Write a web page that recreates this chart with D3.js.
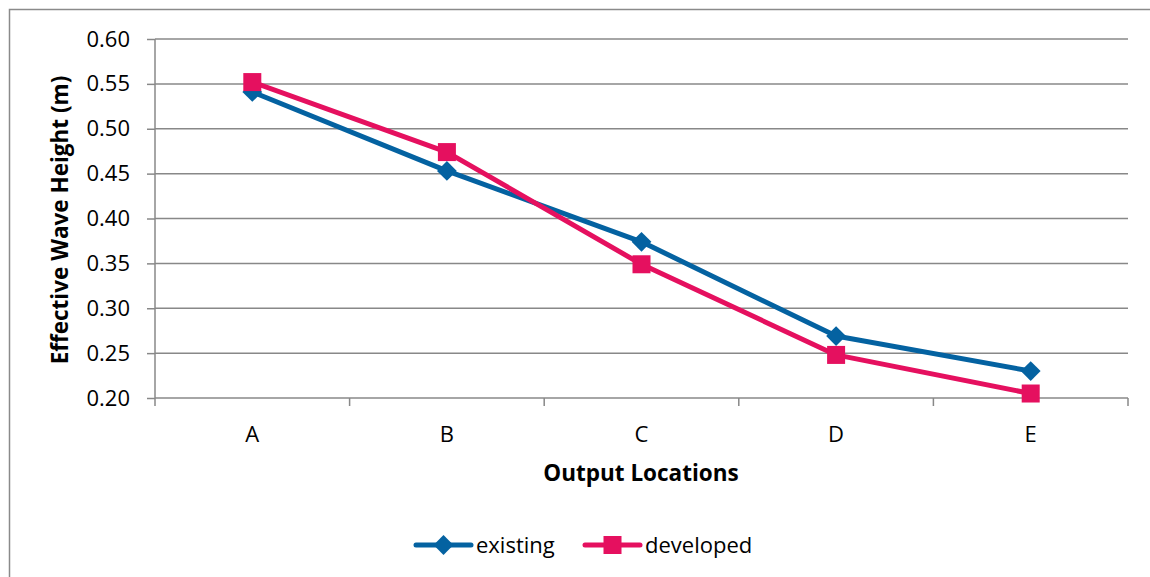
<!DOCTYPE html>
<html><head><meta charset="utf-8">
<script src="https://cdn.jsdelivr.net/npm/d3@7"></script>
<style>body{margin:0;background:#fff;} svg{display:block;}</style>
</head><body>
<svg id="c" width="1150" height="577"></svg>
<script>
const categories = ["A","B","C","D","E"];
const existing = [0.541, 0.453, 0.374, 0.269, 0.230];
const developed = [0.552, 0.474, 0.349, 0.248, 0.205];
const yTicks = [0.20,0.25,0.30,0.35,0.40,0.45,0.50,0.55,0.60];
const seriesNames = ["existing","developed"];
const colors = ["#0462A1","#E5105F"];

const svg = d3.select("#c");
const font = "'Open Sans', sans-serif";
const L=155, R=1128, T=39, B=398;
svg.append("rect").attr("x",9.5).attr("y",9.5).attr("width",1200).attr("height",700)
  .attr("fill","#fff").attr("stroke","#8a8a8a").attr("stroke-width",1.5);

const x = d3.scaleBand().domain(categories).range([L,R]).padding(0);
const y = d3.scaleLinear().domain([0.20,0.60]).range([B,T]);

// gridlines
svg.append("g").selectAll("line").data(yTicks.slice(1)).join("line")
  .attr("x1",L).attr("x2",R).attr("y1",d=>y(d)).attr("y2",d=>y(d))
  .attr("stroke","#888").attr("stroke-width",1.5);

const yAxis = svg.append("g").attr("transform",`translate(${L},0)`)
  .call(d3.axisLeft(y).tickValues(yTicks).tickFormat(d3.format(".2f")).tickSize(8).tickPadding(17));
yAxis.select(".domain").attr("stroke","#888").attr("stroke-width",1.5).attr("d",`M0,${T}V${B}`);
yAxis.selectAll(".tick line").attr("stroke","#888").attr("stroke-width",1.5);
yAxis.selectAll("text").attr("font-family",font).attr("font-size",22).attr("fill","#000");

const xAxis = svg.append("g").attr("transform",`translate(0,${B})`)
  .call(d3.axisBottom(x).tickSize(0).tickPadding(28));
xAxis.select(".domain").attr("stroke","#888").attr("stroke-width",1.5).attr("d",`M${L},0H${R}`);
xAxis.selectAll("text").attr("font-family",font).attr("font-size",22).attr("fill","#000").attr("dy","0em");
// category boundary ticks
const bounds = categories.map(c=>x(c)).concat([R]);
svg.append("g").selectAll("line").data(bounds).join("line")
  .attr("x1",d=>d).attr("x2",d=>d).attr("y1",B).attr("y2",B+8)
  .attr("stroke","#888").attr("stroke-width",1.5);
xAxis.selectAll("text").attr("y",44);

// titles
svg.append("text").attr("x",641).attr("y",481).attr("text-anchor","middle")
  .attr("font-family",font).attr("font-weight","bold").attr("font-size",22.5).text("Output Locations");
svg.append("text").attr("transform","translate(68,220) rotate(-90)").attr("text-anchor","middle")
  .attr("font-family",font).attr("font-weight","bold").attr("font-size",22.5).text("Effective Wave Height (m)");

const cx = c => x(c) + x.bandwidth()/2;
const line = d3.line().x((d,i)=>cx(categories[i])).y(d=>y(d));
const data = [existing, developed];
const diamond = (g,px,py,col)=>g.append("rect").attr("x",px-7).attr("y",py-7).attr("width",14).attr("height",14)
  .attr("transform",`rotate(45,${px},${py})`).attr("fill",col);
const square = (g,px,py,col)=>g.append("rect").attr("x",px-9).attr("y",py-9).attr("width",18).attr("height",18).attr("fill",col);

data.forEach((vals,si)=>{
  svg.append("path").datum(vals).attr("d",line).attr("fill","none")
    .attr("stroke",colors[si]).attr("stroke-width",5).attr("stroke-linejoin","round");
});
data.forEach((vals,si)=>{
  const g = svg.append("g");
  vals.forEach((v,i)=>{
    if(si===0) diamond(g,cx(categories[i]),y(v),colors[0]);
    else square(g,cx(categories[i]),y(v),colors[1]);
  });
});

// legend
const legX = [416, 585];
seriesNames.forEach((n,i)=>{
  const g = svg.append("g");
  g.append("line").attr("x1",legX[i]).attr("x2",legX[i]+55).attr("y1",545).attr("y2",545)
    .attr("stroke",colors[i]).attr("stroke-width",5).attr("stroke-linecap","round");
  if(i===0) diamond(g,legX[i]+27.5,545,colors[0]); else square(g,legX[i]+27.5,545,colors[1]);
  g.append("text").attr("x",legX[i]+60).attr("y",553).attr("font-family",font).attr("font-size",22).text(n);
});
</script>
</body></html>
